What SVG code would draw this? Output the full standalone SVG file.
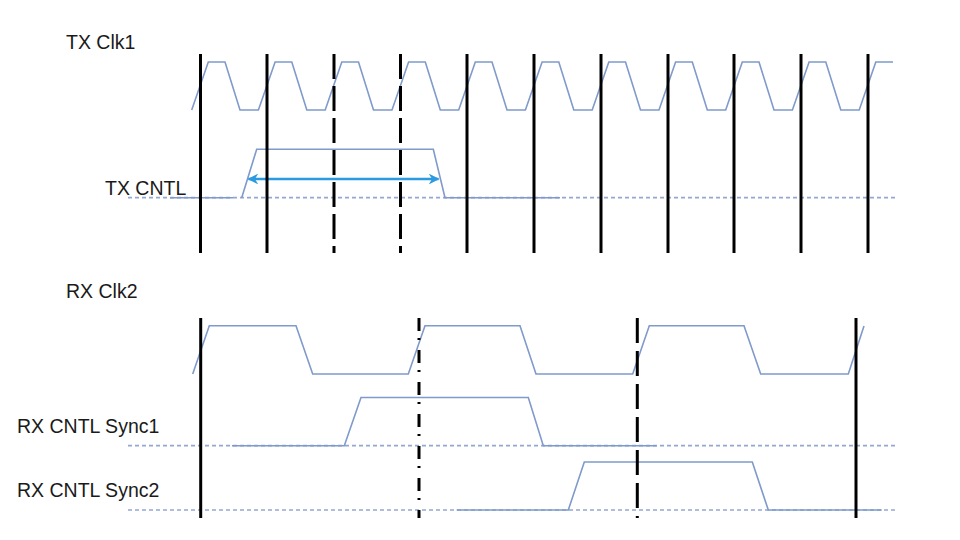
<svg xmlns="http://www.w3.org/2000/svg" width="960" height="540" viewBox="0 0 960 540">
  <defs>
    <style>
      .lbl { font-family: "Liberation Sans", Arial, sans-serif; font-size: 19.5px; fill: #1a1a1a; }
      .wave { fill: none; stroke: #7f9acb; stroke-width: 1.6; stroke-linejoin: miter; }
      .base { fill: none; stroke: #93a8d0; stroke-width: 1.7; stroke-dasharray: 4 3; }
      .solid { stroke: #000; stroke-width: 3; }
      .dashT { stroke: #000; stroke-width: 3; stroke-dasharray: 25 7; }
      .dashdot { stroke: #000; stroke-width: 3; stroke-dasharray: 13 7 2 10; }
      .dashR { stroke: #000; stroke-width: 3; stroke-dasharray: 25 8; }
      .arrow { stroke: #2b9ae0; stroke-width: 2.4; fill: none; }
    </style>
    <marker id="ah" viewBox="0 0 10 10" refX="9" refY="5" markerWidth="4.5" markerHeight="4.5" orient="auto-start-reverse" markerUnits="strokeWidth">
      <path d="M0,0 L10,5 L0,10 L3,5 Z" fill="#2b9ae0"/>
    </marker>
  </defs>
  <rect width="960" height="540" fill="#ffffff"/>

  <g id="labels">
    <text class="lbl" x="66" y="49">TX Clk1</text>
    <text class="lbl" x="105" y="195">TX CNTL</text>
    <text class="lbl" x="66" y="298">RX Clk2</text>
    <text class="lbl" x="17" y="433">RX CNTL Sync1</text>
    <text class="lbl" x="17" y="497">RX CNTL Sync2</text>
  </g>

  <g id="tx-clk1">
    <polyline class="wave" points="191.7,110 208.3,62 225,62 240,110 258.4,110 275.1,62 291.8,62 306.8,110 325.2,110 341.8,62 358.5,62 373.5,110 392,110 408.6,62 425.3,62 440.3,110 458.7,110 475.3,62 492,62 507,110 525.4,110 542.1,62 558.8,62 573.8,110 592.2,110 608.8,62 625.5,62 640.5,110 659,110 675.6,62 692.3,62 707.3,110 725.7,110 742.3,62 759,62 774,110 792.4,110 809.1,62 825.8,62 840.8,110 859.2,110 875.8,62 893,62"/>
  </g>

  <g id="tx-cntl">
    <line class="base" x1="128" y1="197.7" x2="897" y2="197.7"/>
    <line class="wave" x1="170" y1="197.7" x2="233" y2="197.7"/>
    <polyline class="wave" points="241.7,197.7 256.7,149.3 433.3,149.3 445,197.7 560,197.7"/>
  </g>

  <g id="rx-clk2">
    <polyline class="wave" points="192.7,374 209.3,325.7 296,325.7 312.7,374 408.3,374 425,325.7 520,325.7 536,374 632.7,374 649.3,325.7 744,325.7 760.7,374 848.3,374 864,326"/>
  </g>

  <g id="rx-cntl-sync1">
    <line class="base" x1="128" y1="445.7" x2="897" y2="445.7"/>
    <polyline class="wave" points="232,445.7 344.3,445.7 361,397.5 528.3,397.5 543.3,445.7 656.7,445.7"/>
  </g>

  <g id="rx-cntl-sync2">
    <line class="base" x1="128" y1="510" x2="897" y2="510"/>
    <polyline class="wave" points="456.7,510 568.3,510 584.3,462 752.3,462 768.3,510 881.7,510"/>
  </g>

  <g id="connectors">
    <line class="arrow" x1="248.5" y1="179" x2="438.5" y2="179" marker-start="url(#ah)" marker-end="url(#ah)"/>
  </g>

  <g id="tx-edges">
    <line class="solid" x1="200.5" y1="54" x2="200.5" y2="253"/>
    <line class="solid" x1="267" y1="54" x2="267" y2="253"/>
    <line class="dashT" x1="334" y1="54" x2="334" y2="253"/>
    <line class="dashT" x1="400.5" y1="54" x2="400.5" y2="253"/>
    <line class="solid" x1="467" y1="54" x2="467" y2="253"/>
    <line class="solid" x1="534" y1="54" x2="534" y2="253"/>
    <line class="solid" x1="601" y1="54" x2="601" y2="253"/>
    <line class="solid" x1="668" y1="54" x2="668" y2="253"/>
    <line class="solid" x1="734" y1="54" x2="734" y2="253"/>
    <line class="solid" x1="801" y1="54" x2="801" y2="253"/>
    <line class="solid" x1="868" y1="54" x2="868" y2="253"/>
  </g>

  <g id="rx-edges">
    <line class="solid" x1="200.7" y1="318" x2="200.7" y2="518"/>
    <line class="dashdot" x1="419" y1="318" x2="419" y2="518"/>
    <line class="dashR" x1="637.3" y1="318" x2="637.3" y2="518"/>
    <line class="solid" x1="856" y1="318" x2="856" y2="518"/>
  </g>
</svg>
